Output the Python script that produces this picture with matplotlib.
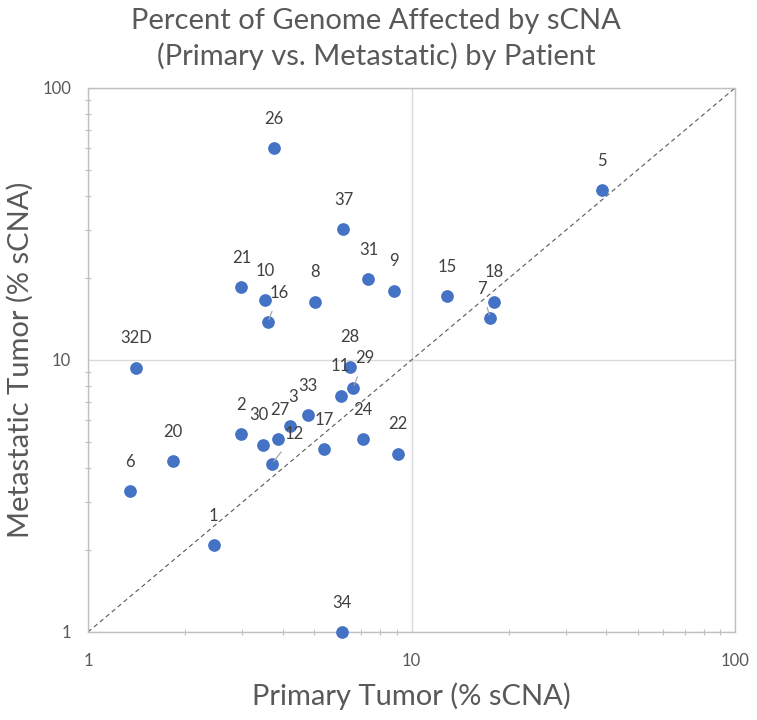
import numpy as np
import matplotlib
matplotlib.use("Agg")
import matplotlib.pyplot as plt
from matplotlib.ticker import LogLocator, NullFormatter, FixedLocator

# patient ids and % genome affected (primary, metastatic)
patients = ["26", "5", "37", "31", "9", "21", "10", "8", "16", "15", "18", "7",
            "32D", "28", "29", "11", "33", "3", "2", "30", "27", "12", "17",
            "24", "22", "20", "6", "1", "34"]
primary = [3.76, 38.9, 6.16, 7.36, 8.85, 2.98, 3.53, 5.02, 3.60, 12.9, 18.0, 17.5,
           1.41, 6.45, 6.61, 6.04, 4.78, 4.20, 2.98, 3.47, 3.88, 3.71, 5.38,
           7.09, 9.10, 1.83, 1.35, 2.45, 6.08]
metastatic = [60.3, 42.2, 30.2, 19.8, 18.0, 18.5, 16.6, 16.4, 13.8, 17.2, 16.4, 14.3,
              9.38, 9.46, 7.92, 7.40, 6.29, 5.70, 5.36, 4.89, 5.12, 4.16, 4.70,
              5.12, 4.53, 4.26, 3.30, 2.08, 1.0]
# labels that sit off to the side with a leader line (x shift in points)
shifted = {"16": 8, "7": -6, "29": 8, "12": 16}
# small nudges so crowded labels don't collide
nudge = {"30": -3, "27": 1, "3": 2.5}

grey = "#595959"
plt.rcParams['font.family'] = ['Lato', 'DejaVu Sans']

fig = plt.figure(figsize=(7.57, 7.2), dpi=100)
ax = fig.add_axes([88/757, 1 - 632/720, (735-88)/757, (632-88)/720])

ax.set_xscale('log')
ax.set_yscale('log')
ax.set_xlim(1, 100)
ax.set_ylim(1, 100)

ax.plot([1, 100], [1, 100], color="#595959", lw=0.8, ls=(0, (4, 3)), zorder=1)
ax.scatter(primary, metastatic, s=66, color="#4472C4", zorder=3, clip_on=False)

for name, x, y in zip(patients, primary, metastatic):
    if name in shifted:
        ax.annotate(name, (x, y), xytext=(shifted[name], 21), textcoords='offset points',
                    ha='center', va='center', fontsize=12, color="#404040",
                    arrowprops=dict(arrowstyle='-', color="#a6a6a6", lw=0.9,
                                    shrinkA=6, shrinkB=2), zorder=4)
    else:
        ax.annotate(name, (x, y), xytext=(nudge.get(name, 0), 21), textcoords='offset points',
                    ha='center', va='center', fontsize=12, color="#404040", zorder=4)

ax.xaxis.set_major_locator(FixedLocator([1, 10, 100]))
ax.yaxis.set_major_locator(FixedLocator([1, 10, 100]))
ax.set_xticklabels(["1", "10", "100"])
ax.set_yticklabels(["1", "10", "100"])
ax.xaxis.set_minor_locator(LogLocator(base=10, subs=np.arange(2, 10)))
ax.yaxis.set_minor_locator(LogLocator(base=10, subs=np.arange(2, 10)))
ax.xaxis.set_minor_formatter(NullFormatter())
ax.yaxis.set_minor_formatter(NullFormatter())
ax.tick_params(which='major', length=0, labelsize=12, labelcolor=grey)
ax.tick_params(axis='x', which='major', pad=15)
ax.tick_params(axis='y', which='major', pad=12)
ax.tick_params(which='minor', direction='inout', length=5, width=0.8, color="#bfbfbf")

ax.grid(which='major', color="#d9d9d9", lw=1)
ax.set_axisbelow(True)
for sp in ax.spines.values():
    sp.set_color("#bfbfbf")
    sp.set_linewidth(1)

ax.set_xlabel("Primary Tumor (% sCNA)", fontsize=21, color=grey, labelpad=10)
ax.set_ylabel("Metastatic Tumor (% sCNA)", fontsize=21, color=grey, labelpad=6)
fig.text(0.497, 1 - 29/720, "Percent of Genome Affected by sCNA",
         fontsize=21, color=grey, ha='center', va='baseline')
fig.text(0.497, 1 - 65/720, "(Primary vs. Metastatic) by Patient",
         fontsize=21, color=grey, ha='center', va='baseline')

fig.savefig("out.png", dpi=100)
